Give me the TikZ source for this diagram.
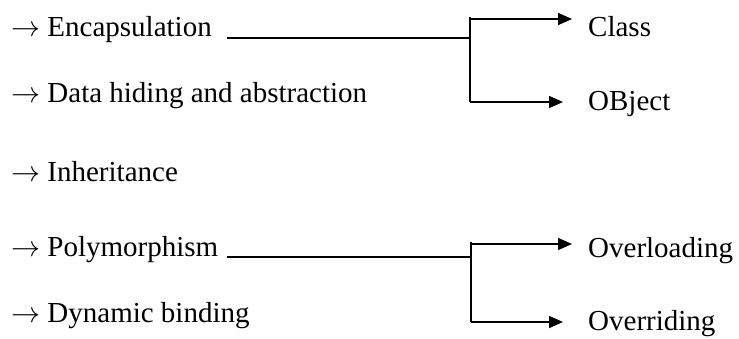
\RequirePackage{fix-cm}
\documentclass[tikz,border=0pt]{standalone}
\usepackage{fontspec}
\setmainfont{Liberation Serif}
\usetikzlibrary{arrows.meta}
\begin{document}
\begin{tikzpicture}[x=1pt,y=-1pt,
  txt/.style={anchor=base west,inner sep=0pt,font=\fontsize{29}{34}\selectfont},
  ln/.style={line width=1.6pt},
  arr/.style={line width=1.6pt,-{Triangle[length=14pt,width=12pt]}}]
\useasboundingbox (0,0) rectangle (739,338);
% left items
\node[txt] (enc) at (11,36) {$\rightarrow$ Encapsulation};
\node[txt] (dat) at (11,102) {$\rightarrow$ Data hiding and abstraction};
\node[txt] (inh) at (11,181) {$\rightarrow$ Inheritance};
\node[txt] (pol) at (11,256) {$\rightarrow$ Polymorphism};
\node[txt] (dyn) at (11,322) {$\rightarrow$ Dynamic binding};
% right items
\node[txt] (cls) at (588,36) {Class};
\node[txt] (obj) at (588,110) {OBject};
\node[txt] (ovl) at (588,257) {Overloading};
\node[txt] (ovr) at (588,330) {Overriding};
% junctions
\coordinate (j1) at (470,38);
\coordinate (j1t) at (470,17);
\coordinate (j1a) at (470,19);
\coordinate (j1b) at (470,102);
\coordinate (j2) at (471,257);
\coordinate (j2t) at (471,242);
\coordinate (j2a) at (471,244);
\coordinate (j2b) at (471,322);
% connectors
\draw[ln] (227,38) -- (j1);
\draw[ln] (j1t) -- (j1b);
\draw[arr,shorten >=16pt] (j1a) -- (j1a -| cls.west);
\draw[arr,shorten >=25pt] (j1b) -- (j1b -| obj.west);
\draw[ln] (227,257) -- (j2);
\draw[ln] (j2t) -- (j2b);
\draw[arr,shorten >=16pt] (j2a) -- (j2a -| ovl.west);
\draw[arr,shorten >=25pt] (j2b) -- (j2b -| ovr.west);
\end{tikzpicture}
\end{document}
